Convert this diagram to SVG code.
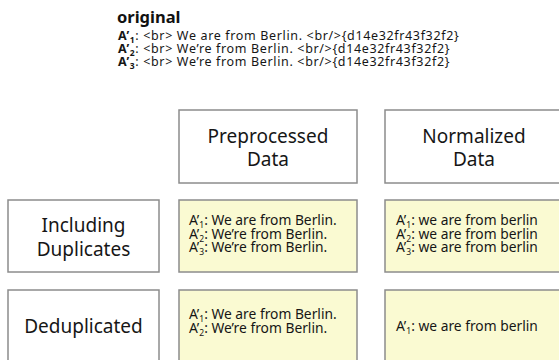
<svg xmlns="http://www.w3.org/2000/svg" width="559" height="360" viewBox="0 0 559 360">
<style>
.box{fill:#ffffff;stroke:#8c8c8c;stroke-width:1.5}
.cell{fill:#fafad2;stroke:#8c8c8c;stroke-width:1.5}
.hd{font-family:"Noto Sans",sans-serif;font-size:19px;fill:#161616;text-anchor:middle}
.ct{font-family:"Noto Sans",sans-serif;font-size:13.8px;fill:#161616}
.tp{font-family:"Noto Sans",sans-serif;font-size:12.5px;letter-spacing:0.65px;fill:#161616}
.sub{font-size:8.5px}
</style>
<rect width="559" height="360" fill="#ffffff"/>
<g id="original">
  <text x="117" y="23" font-family="Noto Sans, sans-serif" font-weight="bold" font-size="16.5" fill="#111">original</text>
  <text class="tp" x="118" y="40"><tspan font-weight="bold">A’</tspan><tspan class="sub" font-weight="bold" dy="3">1</tspan><tspan dy="-3">: &lt;br&gt; We are from Berlin. &lt;br/&gt;{d14e32fr43f32f2}</tspan></text>
  <text class="tp" x="118" y="53"><tspan font-weight="bold">A’</tspan><tspan class="sub" font-weight="bold" dy="3">2</tspan><tspan dy="-3">: &lt;br&gt; We’re from Berlin. &lt;br/&gt;{d14e32fr43f32f2}</tspan></text>
  <text class="tp" x="118" y="66"><tspan font-weight="bold">A’</tspan><tspan class="sub" font-weight="bold" dy="3">3</tspan><tspan dy="-3">: &lt;br&gt; We’re from Berlin. &lt;br/&gt;{d14e32fr43f32f2}</tspan></text>
</g>
<g id="preprocessed-header">
  <rect class="box" x="179" y="110" width="178" height="73"/>
  <text class="hd" x="268" y="143">Preprocessed</text>
  <text class="hd" x="268" y="166">Data</text>
</g>
<g id="normalized-header">
  <rect class="box" x="385" y="110" width="180" height="73"/>
  <text class="hd" x="474" y="143">Normalized</text>
  <text class="hd" x="474" y="166">Data</text>
</g>
<g id="including-duplicates">
  <rect class="box" x="8" y="200" width="151" height="72"/>
  <text class="hd" x="83.5" y="232">Including</text>
  <text class="hd" x="83.5" y="256">Duplicates</text>
</g>
<g id="deduplicated">
  <rect class="box" x="8" y="290" width="151" height="75"/>
  <text class="hd" x="83.5" y="333">Deduplicated</text>
</g>
<g id="pre-incl">
  <rect class="cell" x="179" y="200" width="178" height="72"/>
  <text class="ct" x="189" y="225">A’<tspan class="sub" dy="3">1</tspan><tspan dy="-3">: We are from Berlin.</tspan></text>
  <text class="ct" x="189" y="238.5">A’<tspan class="sub" dy="3">2</tspan><tspan dy="-3">: We’re from Berlin.</tspan></text>
  <text class="ct" x="189" y="252">A’<tspan class="sub" dy="3">3</tspan><tspan dy="-3">: We’re from Berlin.</tspan></text>
</g>
<g id="norm-incl">
  <rect class="cell" x="385" y="200" width="180" height="72"/>
  <text class="ct" x="396" y="225">A’<tspan class="sub" dy="3">1</tspan><tspan dy="-3">: we are from berlin</tspan></text>
  <text class="ct" x="396" y="238.5">A’<tspan class="sub" dy="3">2</tspan><tspan dy="-3">: we are from berlin</tspan></text>
  <text class="ct" x="396" y="252">A’<tspan class="sub" dy="3">3</tspan><tspan dy="-3">: we are from berlin</tspan></text>
</g>
<g id="pre-dedup">
  <rect class="cell" x="179" y="290" width="178" height="75"/>
  <text class="ct" x="189" y="319">A’<tspan class="sub" dy="3">1</tspan><tspan dy="-3">: We are from Berlin.</tspan></text>
  <text class="ct" x="189" y="332.5">A’<tspan class="sub" dy="3">2</tspan><tspan dy="-3">: We’re from Berlin.</tspan></text>
</g>
<g id="norm-dedup">
  <rect class="cell" x="385" y="290" width="180" height="75"/>
  <text class="ct" x="396" y="331">A’<tspan class="sub" dy="3">1</tspan><tspan dy="-3">: we are from berlin</tspan></text>
</g>
</svg>
